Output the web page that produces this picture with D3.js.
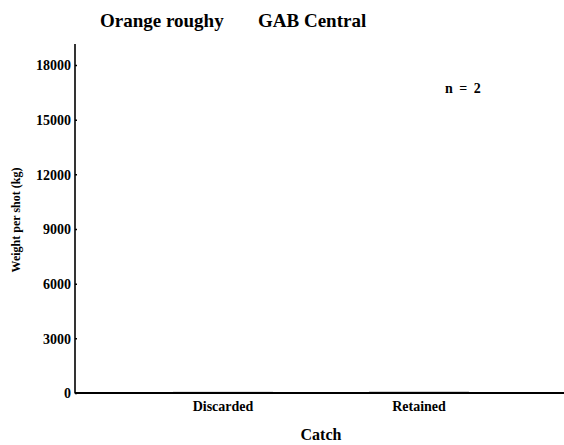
<!DOCTYPE html>
<html><head><meta charset="utf-8">
<script src="https://cdn.jsdelivr.net/npm/d3@7"></script>
<style>body{margin:0;background:#fff}svg{display:block}text{font-family:"Liberation Serif","DejaVu Serif",serif;font-weight:bold;fill:#000}</style>
</head><body>
<script>
const categories = ["Discarded", "Retained"];
const values = [70, 80];
const yTicks = [0, 3000, 6000, 9000, 12000, 15000, 18000];
const titleParts = ["Orange roughy", "GAB Central"];
const nLabel = "n = 2";

const W = 564, H = 445;
const svg = d3.select("body").append("svg").attr("width", W).attr("height", H);

const y = d3.scaleLinear().domain([0, 19150]).range([393, 44]);
const x = d3.scaleBand().domain(categories).range([125, 517]).padding(0);
const barW = x.bandwidth() * 0.51;

// bars
svg.selectAll("rect.bar").data(values).enter().append("rect")
  .attr("class", "bar")
  .attr("x", (d, i) => x(categories[i]) + x.bandwidth() / 2 - barW / 2)
  .attr("width", barW)
  .attr("y", d => y(d))
  .attr("height", d => y(0) - y(d))
  .attr("fill", "#9a9a9a");

// y axis
const yAxis = d3.axisRight(y).tickValues(yTicks).tickSize(2).tickFormat(d3.format("d"));
const gy = svg.append("g").attr("transform", "translate(75,0)").call(yAxis);
gy.select(".domain").remove();
gy.selectAll(".tick line").attr("stroke", "#000").attr("stroke-width", 1.5);
gy.selectAll(".tick text").attr("x", -4).attr("text-anchor", "end").attr("dy", "0.35em")
  .style("font-size", "14px").style("font-family", '"Liberation Serif",serif').style("font-weight", "bold");
svg.append("line").attr("x1", 75).attr("x2", 75).attr("y1", 44).attr("y2", 393.5)
  .attr("stroke", "#000").attr("stroke-width", 1.6);

// x axis
svg.append("line").attr("x1", 75).attr("x2", 564).attr("y1", 393).attr("y2", 393)
  .attr("stroke", "#000").attr("stroke-width", 1.8);
const xAxis = d3.axisBottom(x).tickSize(0).tickPadding(0);
const gx = svg.append("g").attr("transform", "translate(0,393)").call(xAxis);
gx.select(".domain").remove();
gx.selectAll(".tick text").attr("y", 18).attr("dy", null)
  .style("font-size", "14px").style("font-family", '"Liberation Serif",serif').style("font-weight", "bold");
svg.selectAll("rect.tk").data(categories).enter().append("rect").attr("class", "tk")
  .attr("x", d => x(d) + x.bandwidth() / 2 - 1.5).attr("y", 392).attr("width", 3).attr("height", 2).attr("fill", "#000");

// titles
svg.append("text").attr("x", 100).attr("y", 27).style("font-size", "19px").text(titleParts[0]);
svg.append("text").attr("x", 258).attr("y", 27).style("font-size", "19px").text(titleParts[1]);
svg.append("text").attr("x", 321).attr("y", 440).attr("text-anchor", "middle").style("font-size", "16px").text("Catch");
svg.append("text").attr("transform", "translate(20,220) rotate(-90)").attr("text-anchor", "middle")
  .style("font-size", "12px").text("Weight per shot (kg)");
svg.append("text").attr("x", 445).attr("y", 93).style("font-size", "14px").style("word-spacing", "3px").text(nLabel);
</script>
</body></html>
